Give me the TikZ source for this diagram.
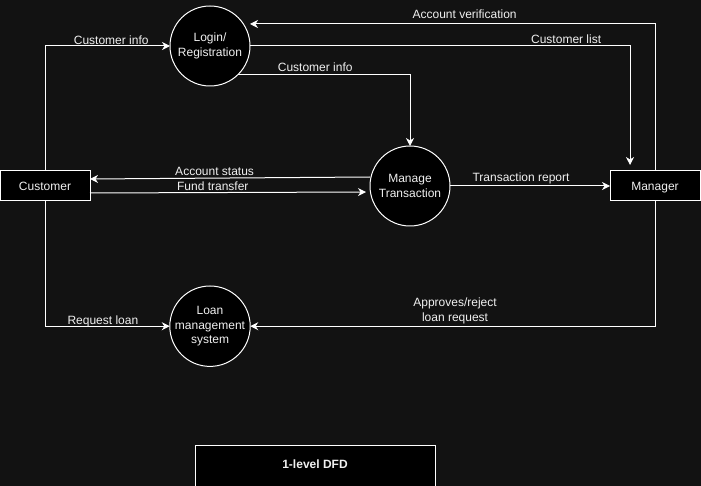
\documentclass[tikz,border=0pt]{standalone}
\usepackage{fontspec}
\setmainfont{Liberation Sans}
\usetikzlibrary{arrows.meta, positioning}
\definecolor{bgdark}{RGB}{18,18,18}
\definecolor{fgtext}{RGB}{240,240,240}
\tikzset{
	process/.style={circle, draw=white, fill=black, line width=1pt, minimum size=80pt, inner sep=0pt, outer sep=0pt, align=center, text=fgtext},
	entity/.style={rectangle, draw=white, fill=black, line width=1pt, minimum width=90pt, minimum height=30pt, outer sep=0pt, text height=8.6pt, text depth=0pt, text=fgtext},
	flow/.style={draw=white, line width=1pt, -{Stealth[length=8pt, width=8pt, inset=2.5pt]}},
	lbl/.style={text=fgtext, anchor=base, inner sep=0pt}
}

\begin{document}
\begin{tikzpicture}[x=1pt, y=-1pt, node distance=160pt, font=\fontsize{12}{14.4}\selectfont]
	% Background and page size
	\fill[bgdark] (0,0) rectangle (701,486);
	\useasboundingbox (0,0) rectangle (701,486);

	% Processes
	\node[process] (trans) at (410,186) {Manage\\Transaction};
	\node[process] (login) at (210,46) {Login/\\Registration};
	\node[process, below=200pt of login] (loan) {Loan\\management\\system};

	% External entities
	\node[entity, left=280pt of trans] (customer) {Customer};
	\node[entity, right=of trans] (manager) {Manager};

	% Caption box
	\node[draw=white, fill=black, line width=1pt, minimum width=240pt, minimum height=44pt, text depth=5pt, text=fgtext, font=\fontsize{12}{14.4}\selectfont\bfseries] (caption) at (315,467) {1-level DFD};

	% Data flows
	\path[flow] (customer.north) |- node[lbl, pos=0.765, yshift=1.5pt] {Customer info} (login.west);
	\path[flow] (manager.north) |- node[lbl, pos=0.735, yshift=5pt] {Account verification} ([yshift=22pt]login.east);
	\path[flow, shorten >=6pt] (login.east) -| node[lbl, pos=0.416, yshift=2pt] {Customer list} ([xshift=-25pt]manager.north);
	\path[flow] (login.-45) -| node[lbl, pos=0.224, yshift=3pt] {Customer info} (trans.north);
	\path[flow] ([yshift=9pt]trans.west) -- node[lbl, pos=0.555, yshift=3pt] {Account status} ([yshift=7pt]customer.east);
	\path[flow] ([yshift=-7pt]customer.east) -- node[lbl, pos=0.445, yshift=2pt] {Fund transfer} ([xshift=-4pt, yshift=-6pt]trans.west);
	\path[flow] (trans.east) -- node[lbl, pos=0.444, yshift=4pt] {Transaction report} (manager.west);
	\path[flow] (customer.south) |- node[lbl, pos=0.732, yshift=2pt] {Request loan} (loan.west);
	\path[flow] (manager.south) |- node[lbl, pos=0.747, anchor=south, align=center, yshift=2pt] {Approves/reject\\loan request} (loan.east);
\end{tikzpicture}
\end{document}
